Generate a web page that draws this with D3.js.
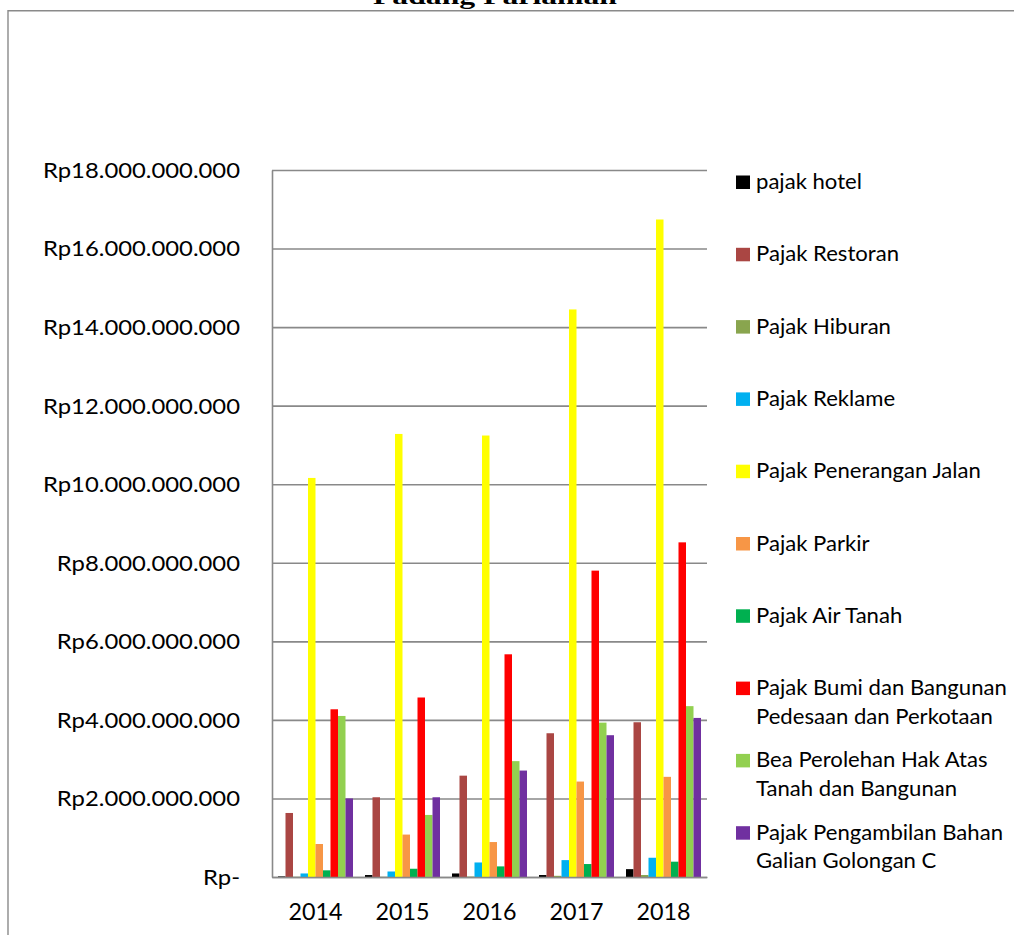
<!DOCTYPE html>
<html>
<head>
<meta charset="utf-8">
<script src="https://cdn.jsdelivr.net/npm/d3@7"></script>
<style>
  html, body { margin: 0; padding: 0; background: #fff; }
  svg { display: block; }
  .cal { font-family: Lato, "Open Sans", sans-serif; fill: #000; }
</style>
</head>
<body>
<svg id="chart" width="1014" height="935"></svg>
<script>
// categories
const years = ['2014', '2015', '2016', '2017', '2018'];

// series values (Rp)
const pajakHotel      = [15e6, 50e6, 90e6, 50e6, 200e6];
const pajakRestoran   = [1630e6, 2030e6, 2580e6, 3660e6, 3940e6];
const pajakHiburan    = [5e6, 5e6, 10e6, 30e6, 50e6];
const pajakReklame    = [90e6, 140e6, 370e6, 430e6, 490e6];
const pajakPenerangan = [10160e6, 11280e6, 11240e6, 14450e6, 16740e6];
const pajakParkir     = [840e6, 1080e6, 890e6, 2430e6, 2550e6];
const pajakAirTanah   = [170e6, 210e6, 270e6, 330e6, 390e6];
const pajakPBB        = [4270e6, 4570e6, 5670e6, 7800e6, 8520e6];
const beaBPHTB        = [4100e6, 1580e6, 2950e6, 3930e6, 4350e6];
const pajakGalianC    = [2000e6, 2030e6, 2710e6, 3610e6, 4050e6];

const seriesNames = [
    'pajak hotel',
    'Pajak Restoran',
    'Pajak Hiburan',
    'Pajak Reklame',
    'Pajak Penerangan Jalan',
    'Pajak Parkir',
    'Pajak Air Tanah',
    'Pajak Bumi dan Bangunan\nPedesaan dan Perkotaan',
    'Bea Perolehan Hak Atas\nTanah dan Bangunan',
    'Pajak Pengambilan Bahan\nGalian Golongan C'
];
const seriesColors = ['#000000', '#AA4643', '#89A54E', '#00B0F0', '#FFFF00',
                      '#F79646', '#00B050', '#FF0000', '#92D050', '#7030A0'];
const seriesValues = [pajakHotel, pajakRestoran, pajakHiburan, pajakReklame, pajakPenerangan,
                      pajakParkir, pajakAirTanah, pajakPBB, beaBPHTB, pajakGalianC];

// axis ticks
const yTicks = [0, 2e9, 4e9, 6e9, 8e9, 10e9, 12e9, 14e9, 16e9, 18e9];

const title = 'Padang Pariaman';

// ---- layout
const plot = { left: 272, right: 707, top: 170, bottom: 877 };
const svg = d3.select('#chart');
const gridColor = '#898989';

const rupiah = (v) => v === 0 ? 'Rp-' : 'Rp' + d3.format(',')(v).replace(/,/g, '.');

const x0 = d3.scaleBand()
    .domain(years)
    .range([plot.left, plot.right])
    .paddingInner(12 / 87)
    .paddingOuter(6 / 87);
const x1 = d3.scaleBand()
    .domain(d3.range(seriesNames.length))
    .range([0, x0.bandwidth()]);
const y = d3.scaleLinear().domain([0, 18e9]).range([plot.bottom, plot.top]);

// chart frame (only top and left edges show)
svg.append('path')
    .attr('d', 'M8,935V10.7H1014')
    .attr('fill', 'none')
    .attr('stroke', '#8a8a8a')
    .attr('stroke-width', 1.4);

// title, cut by the top edge
svg.append('text')
    .attr('x', 495)
    .attr('y', 4)
    .attr('text-anchor', 'middle')
    .attr('font-family', '"Liberation Serif", "Times New Roman", serif')
    .attr('font-weight', 'bold')
    .attr('font-size', 24)
    .attr('textLength', 244)
    .attr('lengthAdjust', 'spacingAndGlyphs')
    .text(title);

// y axis with gridlines
const yAxis = svg.append('g')
    .attr('transform', `translate(${plot.left},0)`)
    .call(d3.axisLeft(y)
        .tickValues(yTicks)
        .tickFormat(rupiah)
        .tickSizeInner(-(plot.right - plot.left))
        .tickSizeOuter(0)
        .tickPadding(32));
yAxis.select('.domain').attr('stroke', gridColor).attr('stroke-width', 1.6);
yAxis.selectAll('.tick line').attr('stroke', gridColor).attr('stroke-width', 1.6);
yAxis.selectAll('.tick text')
    .attr('class', 'cal ytick')
    .attr('font-size', 20.5)
    .attr('dy', '0.36em');
yAxis.attr('font-family', null).attr('font-size', null);

// bars
const groups = svg.append('g')
    .selectAll('g')
    .data(years)
    .join('g')
    .attr('transform', (d) => `translate(${x0(d)},0)`);

groups.selectAll('rect')
    .data((d, i) => seriesValues.map((vals, s) => ({ s, v: vals[i] })))
    .join('rect')
    .attr('x', (d) => x1(d.s))
    .attr('width', x1.bandwidth())
    .attr('y', (d) => y(d.v))
    .attr('height', (d) => y(0) - y(d.v))
    .attr('fill', (d) => seriesColors[d.s]);

// x axis
const xAxis = svg.append('g')
    .attr('transform', `translate(0,${plot.bottom})`)
    .call(d3.axisBottom(x0).tickSize(0).tickPadding(0));
xAxis.select('.domain').attr('stroke', gridColor).attr('stroke-width', 1.6);
xAxis.selectAll('.tick text')
    .attr('class', 'cal xtick')
    .attr('font-size', 23.5)
    .attr('y', 43)
    .attr('dy', 0);
xAxis.attr('font-family', null).attr('font-size', null);

// legend
const legend = svg.append('g');
const rowStep = 72.3;
const legendRows = legend.selectAll('g')
    .data(seriesNames)
    .join('g')
    .attr('transform', (d, i) => `translate(736,${189 + i * rowStep})`);
legendRows.append('rect')
    .attr('x', 0)
    .attr('y', -13.5)
    .attr('width', 14)
    .attr('height', 13.5)
    .attr('fill', (d, i) => seriesColors[i]);
legendRows.each(function (d) {
    const lines = d.split('\n');
    d3.select(this).selectAll('text')
        .data(lines)
        .join('text')
        .attr('class', 'cal ltext')
        .attr('font-size', 20.5)
        .attr('x', 20)
        .attr('y', (l, j) => j * 28.5)
        .text((l) => l);
});

// the source's Calibri text is wider than our fallback font: stretch each
// group of labels by a factor taken from one label of known width
function stretch(selector, refText, refWidth) {
    const sel = svg.selectAll(selector);
    const ref = sel.filter(function () { return this.textContent === refText; }).node();
    const k = refWidth / ref.getComputedTextLength();
    sel.each(function () {
        d3.select(this)
            .attr('textLength', this.getComputedTextLength() * k)
            .attr('lengthAdjust', 'spacingAndGlyphs');
    });
}
stretch('text.ytick', 'Rp18.000.000.000', 197);
stretch('text.xtick', '2014', 54);
stretch('text.ltext', 'Pajak Restoran', 143);
</script>
</body>
</html>
